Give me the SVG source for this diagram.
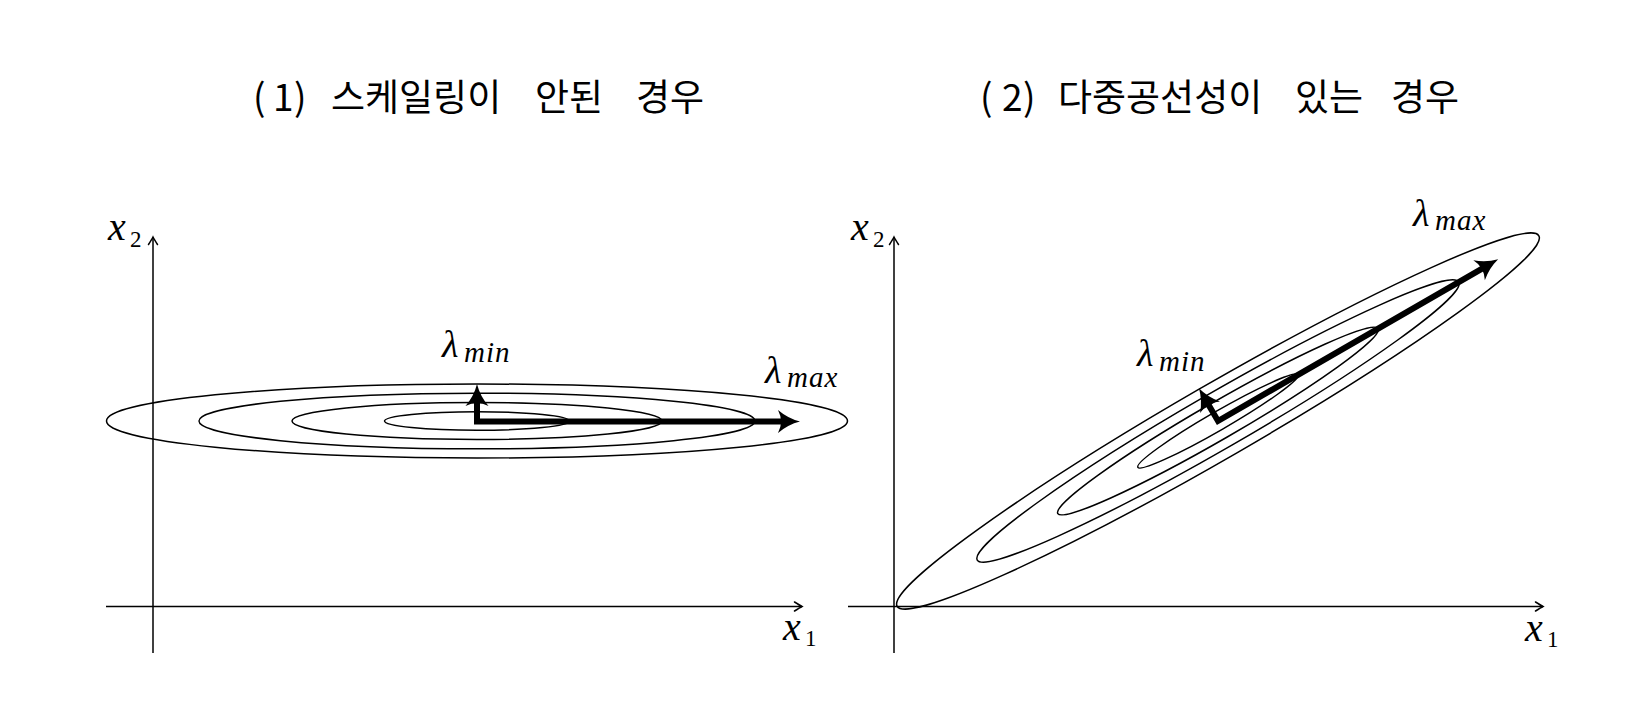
<svg xmlns="http://www.w3.org/2000/svg" width="1634" height="704" viewBox="0 0 1634 704">
<style>
.title{font-family:"Noto Sans CJK KR","Noto Sans",sans-serif;font-size:37px;fill:#000}
.m{font-family:"Liberation Serif",serif;font-style:italic;font-size:40px;fill:#000}
.lam{font-family:"Liberation Serif",serif;font-style:italic;font-size:38px;fill:#000}
.sub{font-family:"Liberation Serif",serif;font-style:italic;font-size:29px;fill:#000;letter-spacing:1px}
.num{font-family:"Liberation Serif",serif;font-size:23px;fill:#000}
.axis{stroke:#000;stroke-width:1.5;fill:none}
.ell{stroke:#000;stroke-width:1.5;fill:none}
.thick{stroke:#000;stroke-width:6;fill:none;stroke-linejoin:miter}
</style>
<defs>
<marker id="thin" markerUnits="userSpaceOnUse" markerWidth="20" markerHeight="20" viewBox="-10 -10 20 20" refX="0" refY="0" orient="auto" overflow="visible">
<path d="M -7.5 -4.5 Q -2 -1 0 0 Q -2 1 -7.5 4.5" fill="none" stroke="#000" stroke-width="1.5" stroke-linecap="round"/>
</marker>
<marker id="bold" markerUnits="userSpaceOnUse" markerWidth="40" markerHeight="40" viewBox="-20 -20 40 40" refX="0" refY="0" orient="auto" overflow="visible">
<path d="M 10 0 Q -2 -3 -12 -11.5 Q -6 0 -12 11.5 Q -2 3 10 0 Z" fill="#000"/>
</marker>
</defs>
<g id="title1"><text class="title" y="111"><tspan x="253">(</tspan><tspan x="273">1</tspan><tspan x="294">)</tspan><tspan x="331">스케일링이</tspan><tspan x="535">안된</tspan><tspan x="636">경우</tspan></text></g>
<g id="title2"><text class="title" y="111"><tspan x="980">(</tspan><tspan x="1002">2</tspan><tspan x="1023">)</tspan><tspan x="1058">다중공선성이</tspan><tspan x="1295">있는</tspan><tspan x="1391">경우</tspan></text></g>
<g id="panel1">
<g id="ellipses1" transform="translate(477,421)">
<ellipse class="ell" rx="370.5" ry="37"/>
<ellipse class="ell" rx="278" ry="27.8"/>
<ellipse class="ell" rx="185" ry="18.5"/>
<ellipse class="ell" rx="92.5" ry="9.3"/>
</g>
</g>
<g id="panel2">
<g id="ellipses2" transform="translate(1218,421) rotate(-30)">
<ellipse class="ell" rx="370.5" ry="37"/>
<ellipse class="ell" rx="278" ry="27.8"/>
<ellipse class="ell" rx="185" ry="18.5"/>
<ellipse class="ell" rx="92.5" ry="9.3"/>
</g>
</g>
<g id="connectors">
<line class="axis" x1="153" y1="653" x2="153" y2="237" marker-end="url(#thin)"/>
<line class="axis" x1="106" y1="606.5" x2="802" y2="606.5" marker-end="url(#thin)"/>
<line class="axis" x1="894" y1="653" x2="894" y2="237" marker-end="url(#thin)"/>
<line class="axis" x1="848" y1="606.5" x2="1543" y2="606.5" marker-end="url(#thin)"/>
<path class="thick" d="M 477 394 L 477 421.5 L 790 421.5" marker-end="url(#bold)"/>
<line class="thick" x1="477" y1="405" x2="477" y2="394" marker-end="url(#bold)"/>
<path class="thick" d="M 1204 397 L 1218 421 L 1489.5 264.3" marker-end="url(#bold)"/>
<line class="thick" x1="1209" y1="405.4" x2="1204" y2="396.8" marker-end="url(#bold)"/>
</g>
<g id="labels">
<text class="m" x="108" y="240">x</text><text class="num" x="130" y="247">2</text>
<text class="m" x="851" y="240">x</text><text class="num" x="873" y="247">2</text>
<text class="m" x="783" y="640">x</text><text class="num" x="805" y="646">1</text>
<text class="m" x="1525" y="641">x</text><text class="num" x="1547" y="647">1</text>
<text class="lam" x="442" y="357">λ</text><text class="sub" x="464" y="362">min</text>
<text class="lam" x="765" y="383">λ</text><text class="sub" x="787" y="387">max</text>
<text class="lam" x="1137" y="366">λ</text><text class="sub" x="1159" y="371">min</text>
<text class="lam" x="1413" y="226">λ</text><text class="sub" x="1435" y="230">max</text>
</g>
</svg>
